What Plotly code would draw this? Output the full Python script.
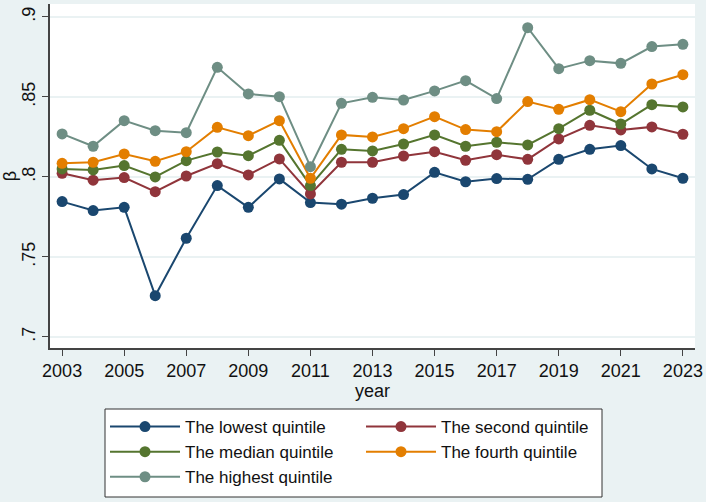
import plotly.graph_objects as go

years = list(range(2003, 2024))

lowest = [0.7846, 0.779, 0.781, 0.7258, 0.7617, 0.7946, 0.781, 0.7988, 0.784, 0.783,
          0.7867, 0.789, 0.8029, 0.797, 0.799, 0.7985, 0.811, 0.8173, 0.8196, 0.805, 0.7992]
second = [0.8023, 0.798, 0.7996, 0.7908, 0.8006, 0.8083, 0.8013, 0.8113, 0.7894, 0.8092,
          0.8092, 0.8131, 0.8158, 0.8104, 0.8139, 0.811, 0.8238, 0.8323, 0.8294, 0.8313, 0.8267]
median = [0.805, 0.8044, 0.8071, 0.800, 0.8102, 0.8156, 0.8133, 0.8229, 0.7946, 0.8173,
          0.8163, 0.8206, 0.8263, 0.8192, 0.8217, 0.820, 0.8302, 0.8417, 0.8331, 0.8452, 0.8438]
fourth = [0.8085, 0.8092, 0.8144, 0.8098, 0.8158, 0.831, 0.8258, 0.8352, 0.7992, 0.8263,
          0.825, 0.8302, 0.8377, 0.8296, 0.8283, 0.8471, 0.8423, 0.8483, 0.8408, 0.8581, 0.8639]
highest = [0.8269, 0.8192, 0.8352, 0.8289, 0.8277, 0.8685, 0.8519, 0.8502, 0.8064, 0.846,
           0.8498, 0.8481, 0.8538, 0.8602, 0.849, 0.8933, 0.8677, 0.8727, 0.871, 0.8815, 0.8829]

series_names = ["The lowest quintile", "The second quintile", "The median quintile",
                "The fourth quintile", "The highest quintile"]
series_values = [lowest, second, median, fourth, highest]
colors = ["#1a476f", "#90353b", "#55752f", "#e37e00", "#6e8e84"]

x_ticks = list(range(2003, 2024, 2))
y_ticks = [0.7, 0.75, 0.8, 0.85, 0.9]
y_tick_labels = [".7", ".75", ".8", ".85", ".9"]

fig = go.Figure()
for name, vals, c in zip(series_names, series_values, colors):
    fig.add_trace(go.Scatter(
        x=years, y=vals, name=name, mode="lines+markers",
        line=dict(color=c, width=2),
        marker=dict(color=c, size=11),
    ))

font_family = "Liberation Sans, Arial, sans-serif"
bg = "#eaf2f3"

# legend frame (pixel layout: plot area l=50..695, t=4..348)
lx0, lx1, ly0, ly1 = 105, 602, 409, 497
fig.add_shape(
    type="rect", xref="paper", yref="paper", layer="below",
    x0=(lx0 - 50) / 645, x1=(lx1 - 50) / 645,
    y0=(348 - ly1) / 344, y1=(348 - ly0) / 344,
    fillcolor="white", line=dict(color="#333333", width=1),
)

fig.update_layout(
    width=706, height=502,
    margin=dict(l=50, r=11, t=4, b=154, autoexpand=False),
    paper_bgcolor=bg,
    plot_bgcolor="white",
    font=dict(family=font_family, size=17, color="#111111"),
    showlegend=True,
    legend=dict(
        orientation="h",
        x=(lx0 - 50) / 645, xanchor="left",
        y=(348 - ly0) / 344, yanchor="top",
        bgcolor="rgba(0,0,0,0)",
        borderwidth=0,
        font=dict(size=17, color="#111111"),
        entrywidth=171,
        tracegroupgap=0,
        itemwidth=70,
    ),
    xaxis=dict(
        range=[2002.61, 2023.39],
        tickvals=x_ticks,
        ticktext=[str(t) for t in x_ticks],
        ticks="outside", ticklen=6, tickcolor="#444444",
        showline=True, linecolor="#444444", linewidth=1.5,
        showgrid=False, zeroline=False, automargin=False,
        tickfont=dict(size=18),
        title=dict(text="year", font=dict(size=18), standoff=0),
    ),
    yaxis=dict(
        range=[0.6931, 0.9081],
        tickvals=y_ticks,
        ticktext=y_tick_labels,
        tickangle=-90,
        ticks="outside", ticklen=6, tickcolor="#444444",
        showline=True, linecolor="#444444", linewidth=1.5,
        showgrid=True, gridcolor=bg, gridwidth=1.5,
        zeroline=False, automargin=False,
        tickfont=dict(size=18),
        title=dict(text="β", font=dict(size=18), standoff=4),
    ),
)

fig.write_html("out.html", config={"displayModeBar": False},
               post_script="document.body.style.margin='0';")
